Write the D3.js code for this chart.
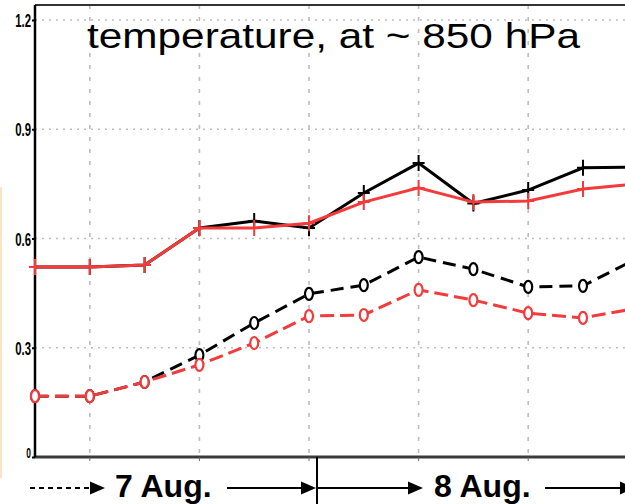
<!DOCTYPE html>
<html>
<head>
<meta charset="utf-8">
<script src="https://cdn.jsdelivr.net/npm/d3@7"></script>
<style>
    body { margin: 0; background: #fff; }
    svg { display: block; }
    .ylab { font-family: 'Liberation Sans', Arial, sans-serif; font-weight: bold; font-size: 19px; }
</style>
</head>
<body>
<svg id="chart" width="625" height="504"></svg>
<script>
// time steps (6-hourly), gridlines every other step
const steps = d3.range(12);
const gridSteps = [1, 3, 5, 7, 9];
const yTicks = [0, 0.3, 0.6, 0.9, 1.2];

// values
const blackSolid = [0.522, 0.522, 0.527, 0.629, 0.648, 0.629, 0.725, 0.807, 0.696, 0.733, 0.794, 0.796];
const redSolid = [0.522, 0.522, 0.527, 0.629, 0.629, 0.642, 0.700, 0.739, 0.700, 0.703, 0.736, 0.750];
const blackDashed = [0.167, 0.167, 0.206, 0.280, 0.368, 0.448, 0.472, 0.549, 0.516, 0.467, 0.470, 0.546];
const redDashed = [0.167, 0.167, 0.206, 0.253, 0.313, 0.387, 0.390, 0.459, 0.431, 0.395, 0.382, 0.409];

const title = "temperature, at ~ 850 hPa";
const dayLabels = ["7 Aug.", "8 Aug."];

const RED = "#f33b3b";
const svg = d3.select("#chart");
const pLeft = 35, pTop = 5, pBottom = 457, pRight = 625;

const x = d3.scaleLinear().domain([0, 11]).range([pLeft, pLeft + 11 * 54.8]);
const y = d3.scaleLinear().domain([0, 1.2]).range([pBottom, 20]);

// faint strip at the far left edge
svg.append("line").attr("x1", 1).attr("x2", 1).attr("y1", 187).attr("y2", 478)
    .attr("stroke", "#fde3c6").attr("stroke-width", 2);

// grid
svg.append("g").selectAll("line").data(yTicks.filter(d => d > 0)).join("line")
    .attr("x1", pLeft).attr("x2", pRight)
    .attr("y1", d => y(d)).attr("y2", d => y(d))
    .attr("stroke", "#bdbdbd").attr("stroke-width", 1.6).attr("stroke-dasharray", "2,5");
svg.append("g").selectAll("line").data(gridSteps).join("line")
    .attr("x1", d => x(d)).attr("x2", d => x(d))
    .attr("y1", pTop).attr("y2", pBottom)
    .attr("stroke", "#bdbdbd").attr("stroke-width", 1.6).attr("stroke-dasharray", "4,8");

// frame
svg.append("line").attr("x1", pLeft).attr("x2", pRight).attr("y1", pTop).attr("y2", pTop)
    .attr("stroke", "#333").attr("stroke-width", 2);
svg.append("line").attr("x1", pLeft).attr("x2", pRight).attr("y1", pBottom).attr("y2", pBottom)
    .attr("stroke", "#3a3a3a").attr("stroke-width", 3);
svg.append("g").selectAll("line").data(gridSteps).join("line")
    .attr("x1", d => x(d)).attr("x2", d => x(d))
    .attr("y1", pBottom).attr("y2", pBottom + 4)
    .attr("stroke", "#666").attr("stroke-width", 1);

// y axis, labels drawn separately: tall and squeezed
const yAxis = svg.append("g").attr("transform", `translate(${pLeft},0)`)
    .call(d3.axisLeft(y).tickValues(yTicks).tickSize(3).tickFormat(""));
yAxis.select(".domain").attr("d", `M0,${pTop}V${pBottom}`).attr("stroke", "#000").attr("stroke-width", 2.5);
yAxis.selectAll(".tick line").attr("stroke", "#000").attr("stroke-width", 2);

const sx = 0.6;
svg.append("g").selectAll("text").data(yTicks).join("text")
    .attr("class", "ylab")
    .attr("transform", d => `translate(${pLeft - 4},${y(d) + (d === 0 ? 1 : 7)}) scale(${sx},1)`)
    .attr("text-anchor", "end")
    .style("font-size", d => d === 0 ? "14px" : "19px")
    .text(d => d === 0 ? "0" : d3.format(".1f")(d));

// series
const line = d3.line().x((d, i) => x(steps[i])).y(d => y(d));
const series = [
    { values: blackSolid, color: "#000", dash: null, marker: "plus" },
    { values: blackDashed, color: "#000", dash: "13,7", marker: "o" },
    { values: redSolid, color: RED, dash: null, marker: "plus" },
    { values: redDashed, color: RED, dash: "14,6", marker: "o" }
];

series.forEach(s => {
    const g = svg.append("g");
    g.append("path").datum(s.values)
        .attr("d", line).attr("fill", "none")
        .attr("stroke", s.color).attr("stroke-width", 3)
        .attr("stroke-dasharray", s.dash);
    if (s.marker === "plus") {
        g.selectAll("path.mk").data(s.values).join("path").attr("class", "mk")
            .attr("transform", (d, i) => `translate(${x(steps[i])},${y(d)})`)
            .attr("d", "M-6,0H6M0,-8V8")
            .attr("stroke", s.color).attr("stroke-width", 2);
    } else {
        g.selectAll("ellipse").data(s.values).join("ellipse")
            .attr("cx", (d, i) => x(steps[i])).attr("cy", d => y(d))
            .attr("rx", 4).attr("ry", 6)
            .attr("fill", "#fff").attr("stroke", s.color).attr("stroke-width", 2.2);
    }
});

// title
svg.append("text").attr("x", 87).attr("y", 48)
    .attr("font-family", "'Liberation Sans', Arial, sans-serif").attr("font-size", 35)
    .attr("textLength", 493).attr("lengthAdjust", "spacingAndGlyphs")
    .attr("fill", "#000").text(title);

// day annotation under the axis
const ann = svg.append("g").attr("stroke", "#000").attr("fill", "#000");
const ay = 488;
function arrowHead(xTip) {
    ann.append("path").attr("d", `M${xTip},${ay}L${xTip - 15},${ay - 6.5}L${xTip - 15},${ay + 6.5}Z`).attr("stroke", "none");
}
ann.append("line").attr("x1", 30).attr("x2", 91).attr("y1", ay).attr("y2", ay)
    .attr("stroke-width", 2).attr("stroke-dasharray", "5,4");
arrowHead(105);
ann.append("line").attr("x1", 227).attr("x2", 303).attr("y1", ay).attr("y2", ay).attr("stroke-width", 2);
arrowHead(316);
ann.append("line").attr("x1", 317).attr("x2", 317).attr("y1", pBottom).attr("y2", 504).attr("stroke-width", 2);
ann.append("line").attr("x1", 317).attr("x2", 410).attr("y1", ay).attr("y2", ay).attr("stroke-width", 2);
arrowHead(423);
ann.append("line").attr("x1", 545).attr("x2", 622).attr("y1", ay).attr("y2", ay).attr("stroke-width", 2);
arrowHead(635);

svg.append("g").selectAll("text").data(dayLabels).join("text")
    .attr("x", (d, i) => [115, 434][i]).attr("y", 497)
    .attr("font-family", "'Liberation Sans', Arial, sans-serif")
    .attr("font-weight", "bold").attr("font-size", 32).attr("fill", "#000")
    .text(d => d);
</script>
</body>
</html>
